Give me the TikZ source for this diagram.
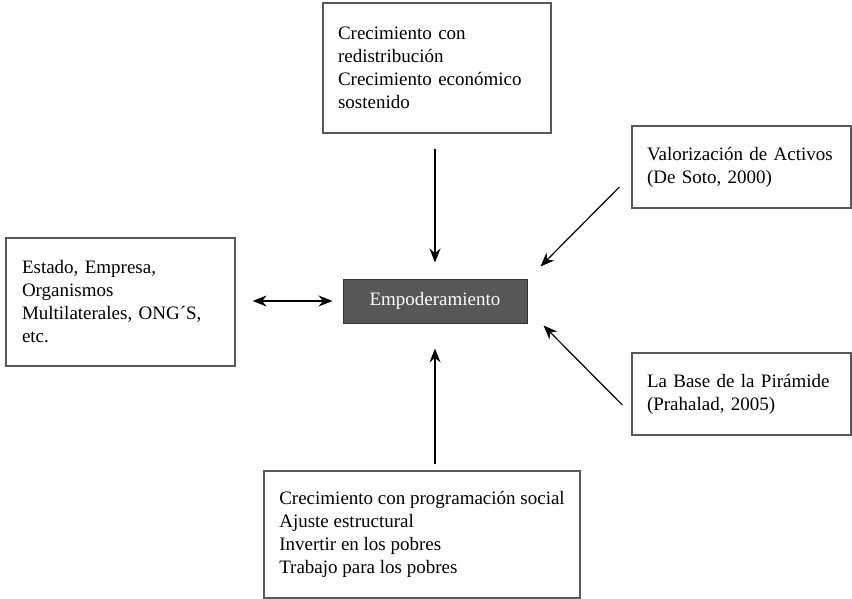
\documentclass[tikz,border=0pt]{standalone}
\usepackage{fontspec}
\setmainfont{Liberation Serif}
\usetikzlibrary{arrows.meta}

\tikzset{
	punta/.tip={Stealth[length=14pt, width=11pt]},
	caja/.style={draw=black!65, line width=1.3pt, align=left, inner xsep=15pt, inner ysep=0pt},
	flecha/.style={-punta, line width=1.2pt}
}

\begin{document}
\begin{tikzpicture}[x=1pt, y=-1pt, font=\fontsize{19}{23}\selectfont]
		\useasboundingbox (0,0) rectangle (852,599);

		% Centre
		\node[draw=black!80, fill=black!66, text=white, line width=1pt,
			minimum width=184pt, minimum height=44pt] (emp) at (435,301) {Empoderamiento};

		% Boxes around
		\node[caja, text width=198pt, minimum height=130pt] (crec) at (437,68)
			{Crecimiento con\\ redistribución\\ Crecimiento económico\\ sostenido};
		\node[caja, text width=197pt, inner xsep=16pt, minimum height=128pt] (actores) at (120.5,302)
			{Estado, Empresa,\\ Organismos\\ Multilaterales, ONG´S,\\ etc.};
		\node[caja, text width=189pt, minimum height=82pt] (valor) at (741.5,167)
			{Valorización de Activos\\ (De Soto, 2000)};
		\node[caja, text width=189pt, minimum height=82pt] (piramide) at (741.5,394)
			{La Base de la Pirámide\\ (Prahalad, 2005)};
		\node[caja, minimum width=316pt, inner xsep=0pt, minimum height=127pt] (programas) at (422,534.5)
			{Crecimiento con programación social\\ Ajuste estructural\\ Invertir en los pobres\\ Trabajo para los pobres};

		% Arrows to the centre
		\draw[flecha, shorten <=15pt, shorten >=16pt] (crec.south -| emp.north) -- (emp.north);
		\draw[flecha, shorten <=6pt, shorten >=25pt] (programas.north -| emp.south) -- (emp.south);
		\draw[flecha, punta-punta, shorten <=17pt, shorten >=10pt] (actores.east |- emp.west) -- (emp.west);
		\draw[flecha] ([shift={(-12,20)}]valor.west) -- ([shift={(13,-12)}]emp.north east);
		\draw[flecha] ([shift={(-9,11)}]piramide.west) -- ([shift={(16,2)}]emp.south east);
	\end{tikzpicture}
\end{document}
